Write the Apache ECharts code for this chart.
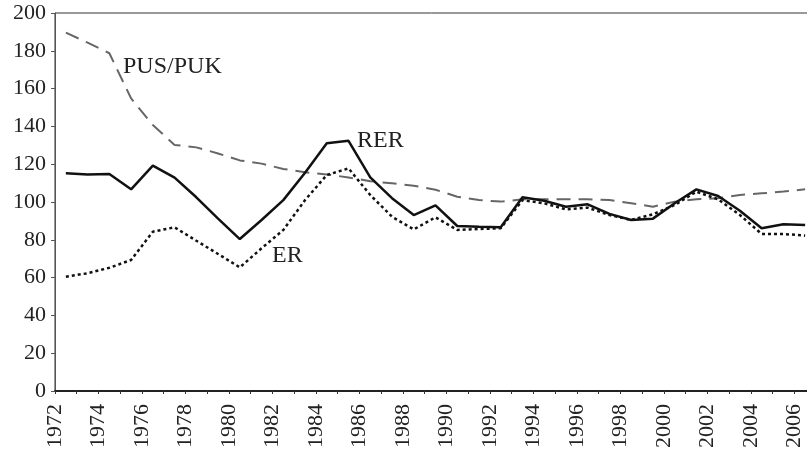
<!DOCTYPE html>
<html>
<head>
<meta charset="utf-8">
<script src="https://cdn.jsdelivr.net/npm/echarts@6/dist/echarts.min.js"></script>
<style>
    html, body { margin: 0; padding: 0; background: #fff; }
    #chart { width: 807px; height: 455px; }
</style>
</head>
<body>
<div id="chart"></div>
<script>
// years on the x axis, one point per year (drawn at the centre of each year slot)
var years = [1972, 1973, 1974, 1975, 1976, 1977, 1978, 1979, 1980, 1981,
             1982, 1983, 1984, 1985, 1986, 1987, 1988, 1989, 1990, 1991,
             1992, 1993, 1994, 1995, 1996, 1997, 1998, 1999, 2000, 2001,
             2002, 2003, 2004, 2005, 2006]

var rer = [115.2, 114.6, 114.8, 106.7, 119.2, 112.9, 102.5, 91.2, 80.4, 90.5,
           101.0, 115.5, 131.1, 132.4, 113.0, 102.0, 93.1, 98.2, 87.3, 86.9,
           86.6, 102.5, 100.7, 97.5, 98.8, 93.7, 90.5, 91.2, 99.3, 106.7,
           103.2, 95.4, 86.1, 88.2, 87.8]

var er = [60.5, 62.3, 65.2, 69.3, 84.3, 86.6, 79.5, 72.5, 65.4, 75.5,
          85.2, 101.0, 114.3, 117.8, 103.7, 92.2, 85.5, 91.9, 85.2, 85.7,
          86.1, 101.0, 99.3, 96.1, 97.0, 93.1, 90.5, 93.5, 98.4, 105.5,
          101.4, 93.1, 83.1, 83.1, 82.2]

var pusPuk = [189.6, 184.3, 178.7, 154.8, 140.7, 130.2, 128.9, 125.7, 122.0, 120.3,
              117.5, 115.7, 114.6, 113.0, 111.0, 109.9, 108.6, 106.5, 102.8, 101.0,
              100.2, 101.4, 101.4, 101.4, 101.4, 101.0, 99.3, 97.5, 100.2, 101.4,
              102.0, 103.7, 104.6, 105.5, 106.7]

var yTicks = [0, 20, 40, 60, 80, 100, 120, 140, 160, 180, 200]

var chart = echarts.init(document.getElementById('chart'))

function toPoints(values) {
    var pts = []
    for (var i = 0; i < values.length; i++) {
        pts.push([years[i] - years[0] + 0.5, values[i]])
    }
    return pts
}

var serif = "'Liberation Serif', 'Times New Roman', Times, serif"

var option = {
    animation: false,
    grid: {
        left: 55,
        width: 761,   // 35 year slots; the right edge runs past the picture
        top: 13,
        bottom: 64,
        outerBoundsMode: 'none',
        containLabel: false,
        show: true,
        borderColor: '#333',
        borderWidth: 1
    },
    xAxis: {
        type: 'value',
        min: 0,
        max: years.length,
        interval: 1,
        splitLine: { show: false },
        axisLine: { show: true, onZero: false, lineStyle: { color: '#222', width: 2 } },
        axisTick: { show: true, length: 3, lineStyle: { color: '#333', width: 1 } },
        axisLabel: {
            rotate: 90,
            margin: 13,
            fontFamily: serif,
            fontSize: 22,
            color: '#222',
            showMaxLabel: false,
            formatter: function (v) {
                if (v % 2 === 0 && v < years.length) return String(years[0] + v)
                return ''
            }
        }
    },
    yAxis: {
        type: 'value',
        min: yTicks[0],
        max: yTicks[yTicks.length - 1],
        interval: 20,
        splitLine: { show: false },
        axisLine: { show: true, lineStyle: { color: '#555', width: 1 } },
        axisTick: { show: true, length: 4, lineStyle: { color: '#555', width: 1 } },
        axisLabel: {
            margin: 9,
            fontFamily: serif,
            fontSize: 22,
            color: '#222'
        }
    },
    series: [
        {
            name: 'PUS/PUK',
            type: 'line',
            data: toPoints(pusPuk),
            symbol: 'none',
            lineStyle: { color: '#666', width: 2, type: [14, 8] }
        },
        {
            name: 'ER',
            type: 'line',
            data: toPoints(er),
            symbol: 'none',
            lineStyle: { color: '#111', width: 2.5, type: [3, 3] }
        },
        {
            name: 'RER',
            type: 'line',
            data: toPoints(rer),
            symbol: 'none',
            lineStyle: { color: '#111', width: 2.5 }
        }
    ],
    graphic: [
        { type: 'text', left: 123, top: 55, style: { text: 'PUS/PUK', font: '24px ' + serif, fill: '#222' } },
        { type: 'text', left: 357, top: 129, style: { text: 'RER', font: '24px ' + serif, fill: '#222' } },
        { type: 'text', left: 272, top: 244, style: { text: 'ER', font: '24px ' + serif, fill: '#222' } }
    ]
}

chart.setOption(option)
</script>
</body>
</html>
